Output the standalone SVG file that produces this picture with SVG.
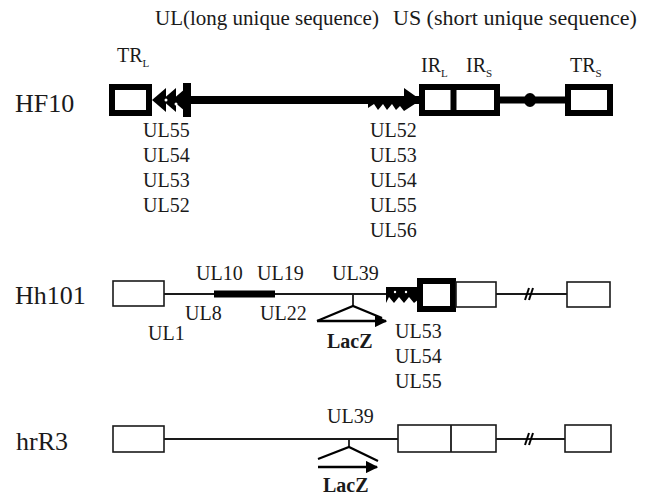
<svg xmlns="http://www.w3.org/2000/svg" width="655" height="496" viewBox="0 0 655 496">
<style>
text{font-family:"Liberation Serif","Times New Roman",serif;fill:#1a1a1a}
.lbl{font-size:20px}
.big{font-size:26px}
.top{font-size:21px}
.sub{font-size:11px}
.bold{font-weight:bold;font-size:20px}
.thick{fill:#fff;stroke:#000;stroke-width:6}
.thin{fill:#fff;stroke:#1a1a1a;stroke-width:1.6}
.ln{stroke:#1a1a1a;stroke-width:1.8;fill:none}
</style>
<defs>
<marker id="ah" viewBox="0 0 10 10" refX="9" refY="5" markerWidth="5" markerHeight="5" orient="auto" markerUnits="strokeWidth">
<path d="M0,0 L10,5 L0,10 z" fill="#000"/>
</marker>
</defs>
<rect width="655" height="496" fill="#fff"/>

<g id="header">
<text class="top" x="155" y="25">UL(long unique sequence)</text>
<text class="top" x="393" y="25" style="font-size:22px">US (short unique sequence)</text>
</g>

<g id="connectors">
<line x1="190" y1="100" x2="420" y2="100" stroke="#000" stroke-width="8"/>
<line x1="497" y1="100" x2="568" y2="100" stroke="#000" stroke-width="7"/>
<line x1="164" y1="294" x2="420" y2="294" class="ln"/>
<line x1="214" y1="294" x2="275" y2="294" stroke="#000" stroke-width="7"/>
<line x1="496" y1="294" x2="567" y2="294" class="ln"/>
<line x1="164" y1="439" x2="398" y2="439" class="ln"/>
<line x1="496" y1="439" x2="565" y2="439" class="ln"/>
</g>

<g id="HF10">
<text class="big" x="15" y="112">HF10</text>
<rect class="thick" x="112" y="87" width="37" height="26"/>
<text class="lbl" x="117" y="62">TR<tspan class="sub" dy="5">L</tspan></text>
<polygon points="152,100 166,88 166,112" fill="#000"/>
<polygon points="162,100 176,88 176,112" fill="#000"/>
<polygon points="172,100 186,88 186,112" fill="#000"/>
<circle cx="166" cy="100" r="1.5" fill="#fff"/>
<circle cx="176" cy="104" r="1.5" fill="#fff"/>
<rect x="183" y="83" width="8" height="34" fill="#000"/>
<polygon points="368,96 404,96 404,88 421,100 404,111 400,106 396,110 392,104 387,110 383,104 378,110 374,104 368,108" fill="#000"/>
<rect class="thick" x="422" y="87" width="75" height="26"/>
<line x1="453.5" y1="86" x2="453.5" y2="114" stroke="#000" stroke-width="6"/>
<text class="lbl" x="421" y="72">IR<tspan class="sub" dy="5">L</tspan></text>
<text class="lbl" x="466" y="72">IR<tspan class="sub" dy="5">S</tspan></text>
<ellipse cx="530" cy="100" rx="6" ry="7" fill="#000"/>
<rect class="thick" x="568" y="87" width="42" height="26"/>
<text class="lbl" x="570" y="72">TR<tspan class="sub" dy="5">S</tspan></text>
<text class="lbl" x="143" y="137">UL55</text>
<text class="lbl" x="143" y="162">UL54</text>
<text class="lbl" x="143" y="187">UL53</text>
<text class="lbl" x="143" y="212">UL52</text>
<text class="lbl" x="370" y="137">UL52</text>
<text class="lbl" x="370" y="162">UL53</text>
<text class="lbl" x="370" y="187">UL54</text>
<text class="lbl" x="370" y="212">UL55</text>
<text class="lbl" x="370" y="237">UL56</text>
</g>

<g id="Hh101">
<text class="big" x="15" y="304">Hh101</text>
<rect class="thin" x="113" y="281" width="51" height="25"/>
<text class="lbl" x="196" y="280">UL10</text>
<text class="lbl" x="257" y="280">UL19</text>
<text class="lbl" x="185" y="320">UL8</text>
<text class="lbl" x="260" y="320">UL22</text>
<text class="lbl" x="148" y="340">UL1</text>
<text class="lbl" x="332" y="280">UL39</text>
<line x1="353" y1="294" x2="353" y2="306" class="ln"/>
<polyline points="317,321 353,306 382,318" fill="none" stroke="#000" stroke-width="2.2"/>
<line x1="317" y1="321" x2="386" y2="321" stroke="#000" stroke-width="2.5" marker-end="url(#ah)"/>
<text class="bold" x="327" y="348">LacZ</text>
<polygon points="386,287 419,287 419,299 414,303 409,297 404,303 399,297 394,303 389,297 386,303" fill="#000"/>
<circle cx="395" cy="292" r="1.2" fill="#fff"/>
<circle cx="406" cy="292" r="1.2" fill="#fff"/>
<rect class="thick" x="420" y="281" width="33" height="28"/>
<rect class="thin" x="456" y="282" width="40" height="25"/>
<line x1="525" y1="300" x2="529" y2="288" stroke="#000" stroke-width="2"/>
<line x1="529" y1="300" x2="533" y2="288" stroke="#000" stroke-width="2"/>
<rect class="thin" x="567" y="282" width="43" height="25"/>
<text class="lbl" x="395" y="338">UL53</text>
<text class="lbl" x="395" y="363">UL54</text>
<text class="lbl" x="395" y="388">UL55</text>
</g>

<g id="hrR3">
<text class="big" x="16" y="450">hrR3</text>
<rect class="thin" x="113" y="426" width="51" height="26"/>
<text class="lbl" x="327" y="423">UL39</text>
<line x1="349" y1="439" x2="349" y2="447" class="ln"/>
<polyline points="318,459 349,447 378,461" fill="none" stroke="#000" stroke-width="2.2"/>
<line x1="318" y1="467" x2="377" y2="467" stroke="#000" stroke-width="2.5" marker-end="url(#ah)"/>
<text class="bold" x="323" y="492">LacZ</text>
<rect class="thin" x="398" y="425" width="98" height="27"/>
<line x1="451" y1="425" x2="451" y2="452" class="ln"/>
<line x1="525" y1="445" x2="529" y2="433" stroke="#000" stroke-width="2"/>
<line x1="529" y1="445" x2="533" y2="433" stroke="#000" stroke-width="2"/>
<rect class="thin" x="565" y="425" width="46" height="27"/>
</g>
</svg>
